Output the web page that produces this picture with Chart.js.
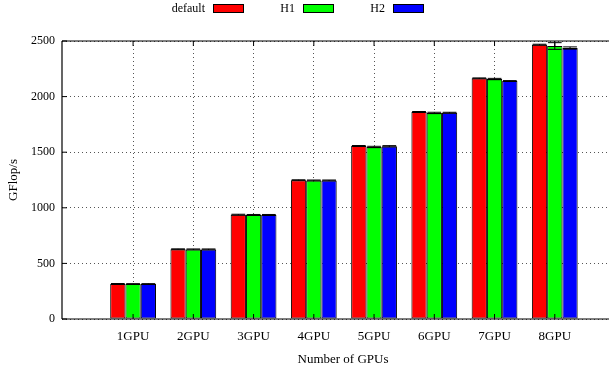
<!DOCTYPE html>
<html>
<head>
<meta charset="utf-8">
<script src="https://cdn.jsdelivr.net/npm/chart.js@4"></script>
<style>
  html, body { margin: 0; padding: 0; background: #fff; }
  #wrap { width: 610px; height: 374px; position: relative; }
</style>
</head>
<body>
<div id="wrap"><canvas id="c" width="610" height="374"></canvas></div>
<script>
// Measured throughput per GPU count, three configurations
const categories = ['1GPU', '2GPU', '3GPU', '4GPU', '5GPU', '6GPU', '7GPU', '8GPU'];
const seriesNames = ['default', 'H1', 'H2'];
const defaultValues = [315, 627, 938, 1248, 1556, 1862, 2164, 2467];
const h1Values      = [314, 626, 936, 1246, 1547, 1853, 2158, 2455];
const h2Values      = [314, 626, 936, 1246, 1553, 1855, 2140, 2437];
// Error bar half-widths
const defaultErr = [4, 4, 4, 4, 4, 4, 4, 4];
const h1Err      = [4, 4, 4, 4, 6, 6, 6, 30];
const h2Err      = [4, 4, 4, 4, 6, 4, 4, 10];
const yTicks = [0, 500, 1000, 1500, 2000, 2500];

const FONT = '"Liberation Serif", "Times New Roman", serif';
const colors = ['#ff0000', '#00ff00', '#0000ff'];

const toPoints = vals => vals.map((v, i) => ({ x: i, y: v }));

const datasets = [defaultValues, h1Values, h2Values].map((vals, k) => ({
  label: seriesNames[k],
  data: toPoints(vals),
  backgroundColor: colors[k],
  borderColor: '#000',
  borderWidth: 1,
  borderSkipped: false,
  categoryPercentage: 0.76,
  barPercentage: 1.0,
  errors: [defaultErr, h1Err, h2Err][k]
}));

// Frame, inward tick marks and error bars
const framePlugin = {
  id: 'frame',
  afterDatasetsDraw(chart) {
    const { ctx, chartArea: a, scales: { x, y } } = chart;
    ctx.save();
    // error bars
    ctx.strokeStyle = '#000';
    ctx.lineWidth = 1;
    chart.data.datasets.forEach((ds, di) => {
      const meta = chart.getDatasetMeta(di);
      meta.data.forEach((bar, i) => {
        const e = ds.errors[i];
        const v = ds.data[i].y;
        const yt = y.getPixelForValue(v + e);
        const yb = y.getPixelForValue(v - e);
        const half = bar.width * 0.45;
        ctx.beginPath();
        ctx.moveTo(bar.x, yt); ctx.lineTo(bar.x, yb);
        ctx.moveTo(bar.x - half, yt); ctx.lineTo(bar.x + half, yt);
        ctx.moveTo(bar.x - half, yb); ctx.lineTo(bar.x + half, yb);
        ctx.stroke();
      });
    });
    // frame lines
    ctx.strokeStyle = '#000';
    ctx.lineWidth = 1.2;
    ctx.beginPath();
    ctx.moveTo(a.left, a.top); ctx.lineTo(a.right, a.top);
    ctx.moveTo(a.left, a.top); ctx.lineTo(a.left, a.bottom);
    ctx.moveTo(a.left, a.bottom); ctx.lineTo(a.right, a.bottom);
    ctx.stroke();
    // inward ticks
    ctx.lineWidth = 1;
    ctx.beginPath();
    yTicks.forEach(t => {
      const py = y.getPixelForValue(t);
      ctx.moveTo(a.left, py); ctx.lineTo(a.left + 5, py);
    });
    categories.forEach((c, i) => {
      const px = x.getPixelForValue(i);
      ctx.moveTo(px, a.top); ctx.lineTo(px, a.top + 5);
      ctx.moveTo(px, a.bottom); ctx.lineTo(px, a.bottom - 5);
    });
    ctx.stroke();
    // x axis title
    ctx.fillStyle = '#000';
    ctx.font = '13px ' + FONT;
    ctx.textAlign = 'center';
    ctx.textBaseline = 'middle';
    ctx.fillText('Number of GPUs', 343, 360);
    ctx.restore();
  }
};

// Legend: label text followed by a sample box
const legendPlugin = {
  id: 'keyLegend',
  afterDraw(chart) {
    const { ctx } = chart;
    ctx.save();
    ctx.font = '12px ' + FONT;
    ctx.textAlign = 'right';
    ctx.textBaseline = 'middle';
    chart.data.datasets.forEach((ds, k) => {
      const bx = 213 + k * 90;
      ctx.fillStyle = '#000';
      ctx.fillText(ds.label, bx - 8, 8.5);
      ctx.fillStyle = ds.backgroundColor;
      ctx.fillRect(bx, 4, 30, 8);
      ctx.strokeStyle = '#000';
      ctx.lineWidth = 1;
      ctx.strokeRect(bx + 0.5, 4.5, 30, 8);
    });
    ctx.restore();
  }
};

new Chart(document.getElementById('c'), {
  type: 'bar',
  data: { datasets },
  options: {
    responsive: false,
    animation: false,
    parsing: { xAxisKey: 'x', yAxisKey: 'y' },
    layout: { padding: { top: 41, right: 1, left: 0, bottom: 0 } },
    plugins: { legend: { display: false }, tooltip: { enabled: false } },
    scales: {
      x: {
        type: 'linear',
        min: -1.18,
        max: 7.9,
        offset: false,
        afterBuildTicks: axis => { axis.ticks = categories.map((_, i) => ({ value: i })); },
        afterFit: axis => { axis.height = 55; },
        ticks: {
          autoSkip: false,
          maxRotation: 0,
          padding: 10,
          color: '#000',
          font: { family: FONT, size: 13 },
          callback: v => categories[v]
        },
        grid: { offset: false, color: '#555', lineWidth: 1, drawTicks: false },
        border: { display: false, dash: [1, 3] }
      },
      y: {
        min: 0,
        max: 2500,
        afterBuildTicks: axis => { axis.ticks = yTicks.map(v => ({ value: v })); },
        afterFit: axis => { axis.width = 62; },
        ticks: {
          padding: 7,
          color: '#000',
          font: { family: FONT, size: 12 },
          callback: v => String(v)
        },
        grid: { color: '#555', lineWidth: 1, drawTicks: false },
        border: { display: false, dash: [1, 3] },
        title: {
          display: true,
          text: 'GFlop/s',
          color: '#000',
          font: { family: FONT, size: 13 },
          padding: { top: 6, bottom: 0 }
        }
      }
    }
  },
  plugins: [framePlugin, legendPlugin]
});
</script>
</body>
</html>
